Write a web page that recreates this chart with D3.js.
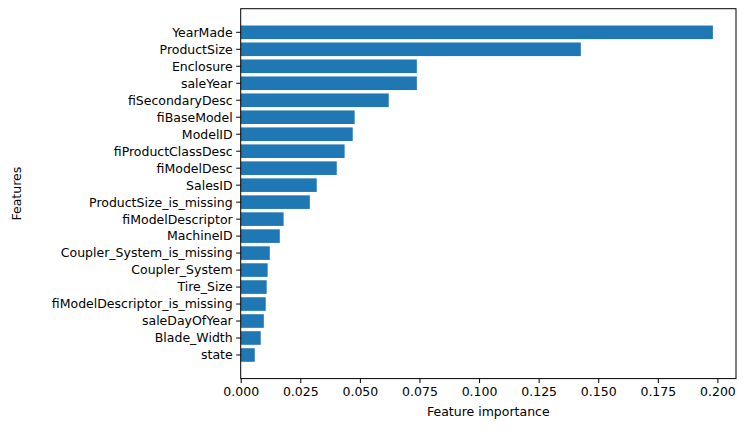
<!DOCTYPE html>
<html><head><meta charset="utf-8">
<script src="https://cdn.jsdelivr.net/npm/d3@7"></script>
<style>body{margin:0;background:#fff}text{font-family:"DejaVu Sans",sans-serif}</style>
</head><body><svg id="c" width="747" height="432"></svg>
<script>
const features = ["YearMade","ProductSize","Enclosure","saleYear","fiSecondaryDesc","fiBaseModel","ModelID","fiProductClassDesc","fiModelDesc","SalesID","ProductSize_is_missing","fiModelDescriptor","MachineID","Coupler_System_is_missing","Coupler_System","Tire_Size","fiModelDescriptor_is_missing","saleDayOfYear","Blade_Width","state"];
const importances = [0.1981,0.1427,0.0739,0.0739,0.0621,0.0478,0.0470,0.0436,0.0403,0.0319,0.0290,0.0180,0.0164,0.0122,0.0113,0.0109,0.0105,0.0097,0.0084,0.0059];
const xTicks = [0,0.025,0.05,0.075,0.1,0.125,0.15,0.175,0.2];

const L=240.7,R=736,T=8.7,B=378.6,FS=12.5;
const svg=d3.select("#c");
const x=d3.scaleLinear().domain([0,0.2078]).range([L,R]);
const n=features.length;
const step=(B-T)/(n-1+0.8+0.99*2);
const yc=i=>T+(0.4+0.99)*step+i*step;
const bh=0.8*step;
svg.selectAll("rect.bar").data(features).enter().append("rect")
 .attr("x",x(0)).attr("y",(d,i)=>yc(i)-bh/2).attr("height",bh)
 .attr("width",(d,i)=>x(importances[i])-x(0)).attr("fill","#1f77b4");
svg.append("rect").attr("x",L).attr("y",T).attr("width",R-L).attr("height",B-T)
 .attr("fill","none").attr("stroke","#000").attr("stroke-width",1);
const xa=svg.append("g").attr("transform",`translate(0,${B})`)
 .call(d3.axisBottom(x).tickValues(xTicks).tickFormat(d3.format(".3f")).tickSize(4.5).tickPadding(4));
xa.select(".domain").remove();
xa.selectAll("text").attr("font-size",FS).attr("fill","#000").style("font-family","DejaVu Sans");
const ya=svg.append("g");
features.forEach((f,i)=>{
 ya.append("line").attr("x1",L-4.5).attr("x2",L).attr("y1",yc(i)).attr("y2",yc(i)).attr("stroke","#000");
 ya.append("text").attr("x",L-8).attr("y",yc(i)).attr("dy","0.35em").attr("text-anchor","end").attr("font-size",FS).text(f);
});
svg.append("text").attr("x",(L+R)/2).attr("y",416).attr("text-anchor","middle").attr("font-size",FS).text("Feature importance");
svg.append("text").attr("transform",`translate(21,${(T+B)/2}) rotate(-90)`).attr("text-anchor","middle").attr("font-size",FS).text("Features");
</script></body></html>
